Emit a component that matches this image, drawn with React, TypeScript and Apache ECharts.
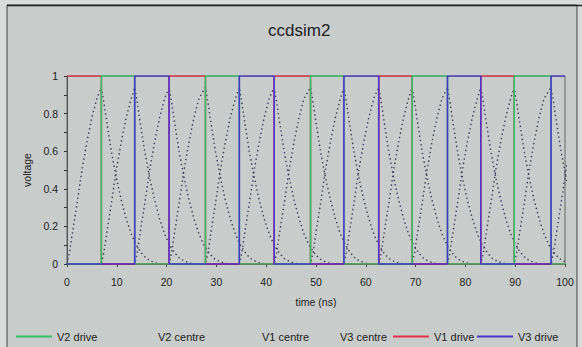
import React, { useEffect, useRef } from 'react';
import * as echarts from 'echarts';

// transition times (ns); step k is high for phase k % 3 (V1, V2, V3)
const EDGES = [0, 6.9, 13.6, 20.5, 27.8, 34.6, 41.6, 48.9, 55.6, 62.6, 69.3, 76.4, 83.1, 89.8, 97.2, 100];
const PHASES = ['V1', 'V2', 'V3'];
// centre voltage profile (offset from drive edge, ns -> volts)
const RISE_OFF = [0, 0.5, 1, 2, 3, 4, 5, 6];
const RISE_VAL = [0, 0.06, 0.15, 0.32, 0.5, 0.65, 0.78, 0.88];
const FALL_OFF = [0, 0.5, 1, 2, 3, 4, 5, 6, 7, 8, 9, 10, 11, 12];
const FALL_VAL = [0.94, 0.86, 0.77, 0.6, 0.46, 0.34, 0.24, 0.16, 0.1, 0.06, 0.03, 0.015, 0.005, 0];

const LEGEND_ORDER = ['V2 drive', 'V2 centre', 'V1 centre', 'V3 centre', 'V1 drive', 'V3 drive'];
const LEGEND_LEFT = [16, 117, 221, 299, 393, 477];

const COLORS: Record<string, string> = {
  'V1 drive': '#e8304a',
  'V2 drive': '#2fc46a',
  'V3 drive': '#4a38cc',
  'V1 centre': '#40365a',
  'V2 centre': '#363e52',
  'V3 centre': '#403668',
};

function driveData(p: number) {
  const pts: number[][] = [];
  for (let k = 0; k < EDGES.length - 1; k++) {
    const lvl = k % 3 === p ? 1 : 0;
    pts.push([EDGES[k], lvl], [EDGES[k + 1], lvl]);
  }
  return pts;
}

function centreData(p: number) {
  const pts: number[][] = [];
  if (p !== 0) pts.push([0, 0]);
  for (let k = 0; k < EDGES.length - 1; k++) {
    if (k % 3 !== p) continue;
    const a = EDGES[k];
    const b = EDGES[k + 1];
    const last = k === EDGES.length - 2;
    for (let i = 0; i < RISE_OFF.length; i++) {
      if (!last && a + RISE_OFF[i] >= b) break;
      pts.push([a + RISE_OFF[i], RISE_VAL[i]]);
    }
    if (last) break;
    for (let i = 0; i < FALL_OFF.length; i++) pts.push([b + FALL_OFF[i], FALL_VAL[i]]);
  }
  return pts;
}

export default function App() {
  const ref = useRef<HTMLDivElement>(null);
  useEffect(() => {
    if (!ref.current) return;
    const chart = echarts.init(ref.current, undefined, { renderer: 'svg' });
    const font = 'Liberation Sans, Arial, sans-serif';
    const series: any[] = [];
    PHASES.forEach((ph, p) => {
      series.push({
        name: ph + ' centre',
        type: 'line',
        data: centreData(p),
        showSymbol: false,
        symbol: 'none',
        lineStyle: { color: COLORS[ph + ' centre'], width: 1.4, type: [1.4, 3] },
        itemStyle: { color: COLORS[ph + ' centre'] },
        z: 2,
      });
    });
    PHASES.forEach((ph, p) => {
      series.push({
        name: ph + ' drive',
        type: 'line',
        data: driveData(p),
        showSymbol: false,
        symbol: 'none',
        lineStyle: { color: COLORS[ph + ' drive'], width: 1.6 },
        itemStyle: { color: COLORS[ph + ' drive'] },
        z: 3,
      });
    });
    const legends = LEGEND_ORDER.map((name, i) => ({
      data: [name],
      left: LEGEND_LEFT[i],
      top: 331,
      padding: 0,
      icon: 'rect',
      itemWidth: 36,
      itemHeight: 2,
      itemGap: 0,
      itemStyle: name.indexOf('centre') >= 0 ? { color: 'rgba(0,0,0,0)' } : { color: COLORS[name] },
      textStyle: { fontFamily: font, fontSize: 11, color: '#222' },
    }));
    chart.setOption({
      animation: false,
      backgroundColor: '#dadcdc',
      textStyle: { fontFamily: font },
      title: {
        text: 'ccdsim2',
        left: 268,
        top: 22,
        padding: 0,
        textStyle: { fontFamily: font, fontSize: 17, fontWeight: 'normal', color: '#222' },
      },
      graphic: [
        {
          type: 'rect',
          shape: { x: 7, y: 5, width: 570, height: 360 },
          style: { fill: '#c8cccb', stroke: '#444', lineWidth: 1 },
          z: -10,
          silent: true,
        },
        {
          type: 'line',
          shape: { x1: 7, y1: 5.5, x2: 582, y2: 5.5 },
          style: { stroke: '#222', lineWidth: 1.5 },
          z: -9,
          silent: true,
        },
      ],
      legend: legends,
      grid: {
        left: 67,
        right: 17,
        top: 76,
        bottom: 83,
        show: true,
        borderColor: '#666',
        borderWidth: 1,
        backgroundColor: 'transparent',
      },
      xAxis: {
        type: 'value',
        min: 0,
        max: 100,
        interval: 10,
        name: 'time (ns)',
        nameLocation: 'middle',
        nameGap: 32,
        nameTextStyle: { fontFamily: font, fontSize: 10.5, color: '#222' },
        axisLine: { lineStyle: { color: '#444' } },
        axisTick: { show: true, length: 3, lineStyle: { color: '#444' } },
        axisLabel: { margin: 12, fontSize: 10.5, color: '#222', fontFamily: font },
        splitLine: { show: false },
      },
      yAxis: {
        type: 'value',
        min: 0,
        max: 1,
        interval: 0.2,
        name: 'voltage',
        nameLocation: 'middle',
        nameGap: 23,
        nameTextStyle: { fontFamily: font, fontSize: 10.5, color: '#222' },
        axisLine: { show: true, lineStyle: { color: '#555' } },
        axisTick: { show: true, length: 3, lineStyle: { color: '#333' } },
        minorTick: { show: true, splitNumber: 2, length: 3, lineStyle: { color: '#333' } },
        axisLabel: { margin: 9, fontSize: 10.5, color: '#222', fontFamily: font },
        splitLine: { show: false },
      },
      series,
    });
    return () => chart.dispose();
  }, []);
  return (
    <div
      ref={ref}
      style={{ position: 'fixed', left: 0, top: 0, width: 582, height: 347 }}
    />
  );
}
